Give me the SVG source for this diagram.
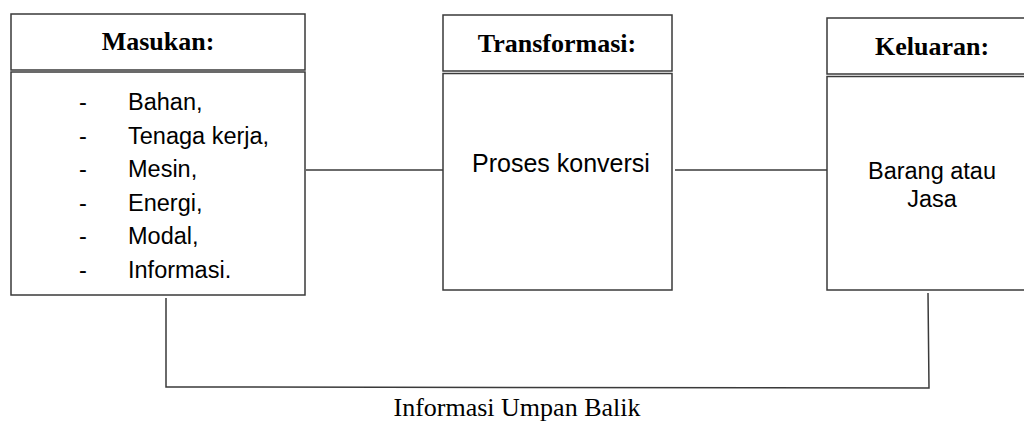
<svg xmlns="http://www.w3.org/2000/svg" width="1024" height="429" viewBox="0 0 1024 429">
  <style>
    .box { fill: #ffffff; stroke: #3a3a3a; stroke-width: 1.5; }
    .link { fill: none; stroke: #3a3a3a; stroke-width: 1.5; }
    .head { font-family: "Liberation Serif", "Times New Roman", serif; font-weight: bold; font-size: 26px; fill: #000; text-anchor: middle; }
    .body { font-family: "Liberation Sans", Arial, sans-serif; font-size: 23.5px; fill: #000; }
    .mid { text-anchor: middle; }
    .note { font-family: "Liberation Serif", "Times New Roman", serif; font-size: 26px; fill: #000; text-anchor: middle; }
  </style>
  <rect width="1024" height="429" fill="#ffffff"/>

  <!-- connectors: input -> process -> output, plus the feedback loop -->
  <g id="connectors">
    <line class="link" x1="306" y1="170" x2="463" y2="170"/>
    <line class="link" x1="675" y1="170" x2="839" y2="170"/>
    <polyline class="link" points="166,298 166,387 929,388 928,293"/>
  </g>

  <g id="masukan">
    <rect class="box" x="11" y="14" width="294" height="56"/>
    <rect class="box" x="11" y="72" width="294" height="223"/>
    <text class="head" x="158" y="50">Masukan:</text>
    <g class="body">
      <text x="79" y="110">-</text><text x="128" y="110">Bahan,</text>
      <text x="79" y="143.6">-</text><text x="128" y="143.6">Tenaga kerja,</text>
      <text x="79" y="177.2">-</text><text x="128" y="177.2">Mesin,</text>
      <text x="79" y="210.8">-</text><text x="128" y="210.8">Energi,</text>
      <text x="79" y="244.4">-</text><text x="128" y="244.4">Modal,</text>
      <text x="79" y="278">-</text><text x="128" y="278">Informasi.</text>
    </g>
  </g>

  <g id="transformasi">
    <rect class="box" x="443" y="15" width="229" height="56"/>
    <rect class="box" x="443" y="73.5" width="229" height="216.5"/>
    <text class="head" x="557" y="52">Transformasi:</text>
    <text class="body mid" x="561" y="172" style="font-size:25px">Proses konversi</text>
  </g>

  <g id="keluaran">
    <rect class="box" x="827" y="18" width="210" height="56"/>
    <rect class="box" x="827" y="76.5" width="210" height="213.5"/>
    <text class="head" x="932" y="55">Keluaran:</text>
    <text class="body mid" x="932" y="179">Barang atau</text>
    <text class="body mid" x="932" y="207">Jasa</text>
  </g>

  <text class="note" x="517" y="416">Informasi Umpan Balik</text>
</svg>
